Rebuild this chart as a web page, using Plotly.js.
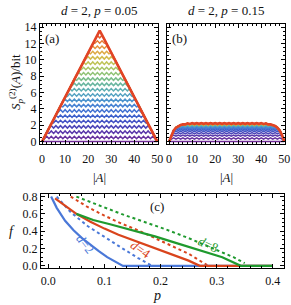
<!DOCTYPE html>
<html><head><meta charset="utf-8">
<script src="https://cdn.plot.ly/plotly-3.0.1.min.js"></script>
<style>html,body{margin:0;padding:0;background:#fff}#g{width:291px;height:305px}</style>
</head><body><div id="g"></div>
<script>
// |A| positions
const A = [0,1,2,3,4,5,6,7,8,9,10,11,12,13,14,15,16,17,18,19,20,21,22,23,24,25,26,27,28,29,30,31,32,33,34,35,36,37,38,39,40,41,42,43,44,45,46,47,48,49,50];

// Panel (a): d=2, p=0.05, curves from bottom (purple) to top (red)
const a00 = [0,0,0,0,0,0,0,0,0,0,0,0,0,0,0,0,0,0,0,0,0,0,0,0,0,0,0,0,0,0,0,0,0,0,0,0,0,0,0,0,0,0,0,0,0,0,0,0,0,0,0];
const a01 = [0,
 .35,.65,.35,.65,.35,.65,.35,.65,.35,.65,.35,.65,
 .35,.65,.35,.65,.35,.65,.35,.65,.35,.65,.35,.65,
 .35,.65,.35,.65,.35,.65,.35,.65,.35,.65,.35,.65,
 .35,.65,.35,.65,.35,.65,.35,.65,.35,.65,.35,.65,
 .35,0];
const a02 = [0,.55,1.09,
 1,1.3,1,1.3,1,1.3,1,1.3,1,1.3,1,1.3,
 1,1.3,1,1.3,1,1.3,1,1.3,1,1.3,1,1.3,
 1,1.3,1,1.3,1,1.3,1,1.3,1,1.3,1,1.3,
 1,1.3,1,1.3,1,1.3,1,1.3,
 1,1.09,.55,0];
const a03 = [0,.55,1.09,1.64,
 1.95,1.65,1.95,1.65,1.95,1.65,1.95,1.65,1.95,1.65,1.95,1.65,1.95,1.65,
 1.95,1.65,1.95,1.65,1.95,1.65,1.95,1.65,1.95,1.65,1.95,1.65,1.95,1.65,
 1.95,1.65,1.95,1.65,1.95,1.65,1.95,1.65,1.95,1.65,1.95,1.65,1.95,1.65,
 1.95,1.64,1.09,.55,0];
const a04 = [0,.55,1.09,1.64,2.18,
 2.3,2.6,2.3,2.6,2.3,2.6,2.3,2.6,2.3,2.6,
 2.3,2.6,2.3,2.6,2.3,2.6,2.3,2.6,2.3,2.6,
 2.3,2.6,2.3,2.6,2.3,2.6,2.3,2.6,2.3,2.6,
 2.3,2.6,2.3,2.6,2.3,2.6,2.3,2.6,2.3,2.6,
 2.3,2.18,1.64,1.09,.55,0];
const a05 = [0,.55,1.09,1.64,2.18,2.73,
 3.25,2.95,3.25,2.95,3.25,2.95,3.25,2.95,3.25,2.95,
 3.25,2.95,3.25,2.95,3.25,2.95,3.25,2.95,3.25,2.95,
 3.25,2.95,3.25,2.95,3.25,2.95,3.25,2.95,3.25,2.95,
 3.25,2.95,3.25,2.95,3.25,2.95,3.25,2.95,
 3.25,2.73,2.18,1.64,1.09,.55,0];
const a06 = [0,.55,1.09,1.64,2.18,2.73,3.27,
 3.6,3.9,3.6,3.9,3.6,3.9,3.6,3.9,3.6,3.9,3.6,3.9,
 3.6,3.9,3.6,3.9,3.6,3.9,3.6,3.9,3.6,3.9,3.6,3.9,
 3.6,3.9,3.6,3.9,3.6,3.9,3.6,3.9,3.6,3.9,3.6,3.9,
 3.6,3.27,2.73,2.18,1.64,1.09,.55,0];
const a07 = [0,.55,1.09,1.64,2.18,2.73,3.27,3.82,4.36,
 4.25,4.55,4.25,4.55,4.25,4.55,4.25,4.55,
 4.25,4.55,4.25,4.55,4.25,4.55,4.25,4.55,
 4.25,4.55,4.25,4.55,4.25,4.55,4.25,4.55,
 4.25,4.55,4.25,4.55,4.25,4.55,4.25,4.55,
 4.25,4.36,3.82,3.27,2.73,2.18,1.64,1.09,.55,0];
const a08 = [0,.55,1.09,1.64,2.18,2.73,3.27,3.82,4.36,
 4.9,5.2,4.9,5.2,4.9,5.2,4.9,5.2,
 4.9,5.2,4.9,5.2,4.9,5.2,4.9,5.2,
 4.9,5.2,4.9,5.2,4.9,5.2,4.9,5.2,
 4.9,5.2,4.9,5.2,4.9,5.2,4.9,5.2,
 4.9,4.36,3.82,3.27,2.73,2.18,1.64,1.09,.55,0];
const a09 = [0,.55,1.09,1.64,2.18,2.73,3.27,3.82,4.36,4.91,5.45,
 5.55,5.85,5.55,5.85,5.55,5.85,5.55,5.85,5.55,5.85,5.55,5.85,5.55,5.85,
 5.55,5.85,5.55,5.85,5.55,5.85,5.55,5.85,5.55,5.85,5.55,5.85,5.55,5.85,
 5.55,5.45,4.91,4.36,3.82,3.27,2.73,2.18,1.64,1.09,.55,0];
const a10 = [0,.55,1.09,1.64,2.18,2.73,3.27,3.82,4.36,4.91,5.45,6,
 6.5,6.2,6.5,6.2,6.5,6.2,6.5,6.2,6.5,6.2,6.5,6.2,6.5,6.2,
 6.5,6.2,6.5,6.2,6.5,6.2,6.5,6.2,6.5,6.2,6.5,6.2,
 6.5,
 6,5.45,4.91,4.36,3.82,3.27,2.73,2.18,1.64,1.09,.55,0];
const a11 = [0,.55,1.09,1.64,2.18,2.73,3.27,3.82,4.36,4.91,5.45,6,6.54,
 6.85,7.15,6.85,7.15,6.85,7.15,6.85,7.15,6.85,7.15,6.85,7.15,
 6.85,7.15,6.85,7.15,6.85,7.15,6.85,7.15,6.85,7.15,6.85,7.15,6.85,
 6.54,6,5.45,4.91,4.36,3.82,3.27,2.73,2.18,1.64,1.09,.55,0];
const a12 = [0,.55,1.09,1.64,2.18,2.73,3.27,3.82,4.36,4.91,5.45,6,6.54,7.09,7.63,
 7.5,7.8,7.5,7.8,7.5,7.8,7.5,7.8,7.5,7.8,
 7.5,7.8,7.5,7.8,7.5,7.8,7.5,7.8,7.5,7.8,7.5,
 7.63,7.09,6.54,6,5.45,4.91,4.36,3.82,3.27,2.73,2.18,1.64,1.09,.55,0];
const a13 = [0,.55,1.09,1.64,2.18,2.73,3.27,3.82,4.36,4.91,5.45,6,6.54,7.09,7.63,
 8.15,8.45,8.15,8.45,8.15,8.45,8.15,8.45,8.15,8.45,
 8.15,8.45,8.15,8.45,8.15,8.45,8.15,8.45,8.15,8.45,8.15,
 7.63,7.09,6.54,6,5.45,4.91,4.36,3.82,3.27,2.73,2.18,1.64,1.09,.55,0];
const a14 = [0,.55,1.09,1.64,2.18,2.73,3.27,3.82,4.36,4.91,5.45,6,6.54,7.09,7.63,8.18,8.72,
 8.8,9.1,8.8,9.1,8.8,9.1,8.8,9.1,
 8.8,9.1,8.8,9.1,8.8,9.1,8.8,9.1,8.8,
 8.72,8.18,7.63,7.09,6.54,6,5.45,4.91,4.36,3.82,3.27,2.73,2.18,1.64,1.09,.55,0];
const a15 = [0,.55,1.09,1.64,2.18,2.73,3.27,3.82,4.36,4.91,5.45,6,6.54,7.09,7.63,8.18,8.72,9.27,
 9.75,9.45,9.75,9.45,9.75,9.45,9.75,9.45,9.75,9.45,9.75,9.45,9.75,9.45,9.75,
 9.27,8.72,8.18,7.63,7.09,6.54,6,5.45,4.91,4.36,3.82,3.27,2.73,2.18,1.64,1.09,.55,0];
const a16 = [0,.55,1.09,1.64,2.18,2.73,3.27,3.82,4.36,4.91,5.45,6,6.54,7.09,7.63,8.18,8.72,9.27,9.81,
 10.1,10.4,10.1,10.4,10.1,10.4,10.1,10.4,10.1,10.4,10.1,10.4,10.1,
 9.81,9.27,8.72,8.18,7.63,7.09,6.54,6,5.45,4.91,4.36,3.82,3.27,2.73,2.18,1.64,1.09,.55,0];
const a17 = [0,.55,1.09,1.64,2.18,2.73,3.27,3.82,4.36,4.91,5.45,6,6.54,7.09,7.63,8.18,8.72,9.27,9.81,10.36,10.9,
 10.75,11.05,10.75,11.05,10.75,11.05,10.75,11.05,10.75,
 10.9,10.36,9.81,9.27,8.72,8.18,7.63,7.09,6.54,6,5.45,4.91,4.36,3.82,3.27,2.73,2.18,1.64,1.09,.55,0];
const a18 = [0,.55,1.09,1.64,2.18,2.73,3.27,3.82,4.36,4.91,5.45,6,6.54,7.09,7.63,8.18,8.72,9.27,9.81,10.36,10.9,
 11.4,11.7,11.4,11.7,11.4,11.7,11.4,11.7,11.4,
 10.9,10.36,9.81,9.27,8.72,8.18,7.63,7.09,6.54,6,5.45,4.91,4.36,3.82,3.27,2.73,2.18,1.64,1.09,.55,0];
const a19 = [0,.55,1.09,1.64,2.18,2.73,3.27,3.82,4.36,4.91,5.45,6,6.54,7.09,7.63,8.18,8.72,9.27,9.81,10.36,10.9,11.45,11.99,
 12.05,12.35,12.05,12.35,12.05,
 11.99,11.45,10.9,10.36,9.81,9.27,8.72,8.18,7.63,7.09,6.54,6,5.45,4.91,4.36,3.82,3.27,2.73,2.18,1.64,1.09,.55,0];
const a20 = [0,.55,1.09,1.64,2.18,2.73,3.27,3.82,4.36,4.91,5.45,6,6.54,7.09,7.63,8.18,8.72,9.27,9.81,10.36,10.9,11.45,11.99,12.54,
 13,12.7,13,
 12.54,11.99,11.45,10.9,10.36,9.81,9.27,8.72,8.18,7.63,7.09,6.54,6,5.45,4.91,4.36,3.82,3.27,2.73,2.18,1.64,1.09,.55,0];
const a21 = [0,.55,1.09,1.64,2.18,2.73,3.27,3.82,4.36,4.91,5.45,6,6.54,7.09,7.63,8.18,8.72,9.27,9.81,10.36,10.9,11.45,11.99,12.54,13.08,
 13.6,
 13.08,12.54,11.99,11.45,10.9,10.36,9.81,9.27,8.72,8.18,7.63,7.09,6.54,6,5.45,4.91,4.36,3.82,3.27,2.73,2.18,1.64,1.09,.55,0];

// Panel (b): d=2, p=0.15
const b00 = [0,0,0,0,0,0,0,0,0,0,0,0,0,0,0,0,0,0,0,0,0,0,0,0,0,0,0,0,0,0,0,0,0,0,0,0,0,0,0,0,0,0,0,0,0,0,0,0,0,0,0];
const b01 = [0,
 .3,.45,.3,.45,.3,.45,.3,.45,.3,.45,.3,.45,
 .3,.45,.3,.45,.3,.45,.3,.45,.3,.45,.3,.45,
 .3,.45,.3,.45,.3,.45,.3,.45,.3,.45,.3,.45,
 .3,.45,.3,.45,.3,.45,.3,.45,.3,.45,.3,.45,
 .3,0];
const b02 = [0,
 .65,.8,.65,.8,.65,.8,.65,.8,.65,.8,.65,.8,
 .65,.8,.65,.8,.65,.8,.65,.8,.65,.8,.65,.8,
 .65,.8,.65,.8,.65,.8,.65,.8,.65,.8,.65,.8,
 .65,.8,.65,.8,.65,.8,.65,.8,.65,.8,.65,.8,
 .65,0];
const b03 = [0,.8,
 1.1,.95,1.1,.95,1.1,.95,1.1,.95,1.1,.95,1.1,.95,
 1.1,.95,1.1,.95,1.1,.95,1.1,.95,1.1,.95,1.1,.95,
 1.1,.95,1.1,.95,1.1,.95,1.1,.95,1.1,.95,1.1,.95,
 1.1,.95,1.1,.95,1.1,.95,1.1,.95,1.1,.95,
 1.1,.8,0];
const b04 = [0,.8,
 1.35,1.2,1.35,1.2,1.35,1.2,1.35,1.2,1.35,1.2,1.35,1.2,
 1.35,1.2,1.35,1.2,1.35,1.2,1.35,1.2,1.35,1.2,1.35,1.2,
 1.35,1.2,1.35,1.2,1.35,1.2,1.35,1.2,1.35,1.2,1.35,1.2,
 1.35,1.2,1.35,1.2,1.35,1.2,1.35,1.2,1.35,1.2,
 1.35,.8,0];
const b05 = [0,.8,1.35,
 1.4,1.55,1.4,1.55,1.4,1.55,1.4,1.55,1.4,1.55,1.4,1.55,
 1.4,1.55,1.4,1.55,1.4,1.55,1.4,1.55,1.4,1.55,1.4,1.55,
 1.4,1.55,1.4,1.55,1.4,1.55,1.4,1.55,1.4,1.55,1.4,1.55,
 1.4,1.55,1.4,1.55,1.4,1.55,1.4,1.55,
 1.4,1.35,.8,0];
const b06 = [0,.8,1.35,
 1.55,1.7,1.55,1.7,1.55,1.7,1.55,1.7,1.55,1.7,1.55,1.7,
 1.55,1.7,1.55,1.7,1.55,1.7,1.55,1.7,1.55,1.7,1.55,1.7,
 1.55,1.7,1.55,1.7,1.55,1.7,1.55,1.7,1.55,1.7,1.55,1.7,
 1.55,1.7,1.55,1.7,1.55,1.7,1.55,1.7,
 1.55,1.35,.8,0];
const b07 = [0,.8,1.35,
 1.67,1.82,1.67,1.82,1.67,1.82,1.67,1.82,1.67,1.82,1.67,1.82,
 1.67,1.82,1.67,1.82,1.67,1.82,1.67,1.82,1.67,1.82,1.67,1.82,
 1.67,1.82,1.67,1.82,1.67,1.82,1.67,1.82,1.67,1.82,1.67,1.82,
 1.67,1.82,1.67,1.82,1.67,1.82,1.67,1.82,
 1.67,1.35,.8,0];
const b08 = [0,.8,1.35,1.7,1.9,
 1.77,1.92,1.77,1.92,1.77,1.92,1.77,1.92,1.77,1.92,
 1.77,1.92,1.77,1.92,1.77,1.92,1.77,1.92,1.77,1.92,
 1.77,1.92,1.77,1.92,1.77,1.92,1.77,1.92,1.77,1.92,
 1.77,1.92,1.77,1.92,1.77,1.92,1.77,1.92,1.77,1.92,
 1.77,1.9,1.7,1.35,.8,0];
const b09 = [0,.8,1.35,1.7,1.9,
 1.85,2,1.85,2,1.85,2,1.85,2,1.85,2,
 1.85,2,1.85,2,1.85,2,1.85,2,1.85,2,
 1.85,2,1.85,2,1.85,2,1.85,2,1.85,2,
 1.85,2,1.85,2,1.85,2,1.85,2,1.85,2,
 1.85,1.9,1.7,1.35,.8,0];
const b10 = [0,.8,1.35,1.7,1.9,
 1.91,2.06,1.91,2.06,1.91,2.06,1.91,2.06,1.91,2.06,
 1.91,2.06,1.91,2.06,1.91,2.06,1.91,2.06,1.91,2.06,
 1.91,2.06,1.91,2.06,1.91,2.06,1.91,2.06,1.91,2.06,
 1.91,2.06,1.91,2.06,1.91,2.06,1.91,2.06,1.91,2.06,
 1.91,1.9,1.7,1.35,.8,0];
const b11 = [0,.8,1.35,1.7,1.9,
 1.95,2.1,1.95,2.1,1.95,2.1,1.95,2.1,1.95,2.1,
 1.95,2.1,1.95,2.1,1.95,2.1,1.95,2.1,1.95,2.1,
 1.95,2.1,1.95,2.1,1.95,2.1,1.95,2.1,1.95,2.1,
 1.95,2.1,1.95,2.1,1.95,2.1,1.95,2.1,1.95,2.1,
 1.95,1.9,1.7,1.35,.8,0];
const b12 = [0,.8,1.35,1.7,1.9,1.98,2.1,
 1.98,2.13,1.98,2.13,1.98,2.13,1.98,2.13,1.98,2.13,1.98,2.13,
 1.98,2.13,1.98,2.13,1.98,2.13,1.98,2.13,1.98,2.13,1.98,2.13,
 1.98,2.13,1.98,2.13,1.98,2.13,1.98,2.13,1.98,2.13,1.98,2.13,
 1.98,2.1,1.98,1.9,1.7,1.35,.8,0];
const b13 = [0,.8,1.35,1.7,1.9,2.01,2.1,
 2.01,2.16,2.01,2.16,2.01,2.16,2.01,2.16,2.01,2.16,2.01,2.16,
 2.01,2.16,2.01,2.16,2.01,2.16,2.01,2.16,2.01,2.16,2.01,2.16,
 2.01,2.16,2.01,2.16,2.01,2.16,2.01,2.16,2.01,2.16,2.01,2.16,
 2.01,2.1,2.01,1.9,1.7,1.35,.8,0];
const b14 = [0,.8,1.35,1.7,1.9,2.02,2.1,
 2.03,2.18,2.03,2.18,2.03,2.18,2.03,2.18,2.03,2.18,2.03,2.18,
 2.03,2.18,2.03,2.18,2.03,2.18,2.03,2.18,2.03,2.18,2.03,2.18,
 2.03,2.18,2.03,2.18,2.03,2.18,2.03,2.18,2.03,2.18,2.03,2.18,
 2.03,2.1,2.02,1.9,1.7,1.35,.8,0];
const b15 = [0,.8,1.35,1.7,1.9,2.02,2.1,
 2.05,2.2,2.05,2.2,2.05,2.2,2.05,2.2,2.05,2.2,2.05,2.2,
 2.05,2.2,2.05,2.2,2.05,2.2,2.05,2.2,2.05,2.2,2.05,2.2,
 2.05,2.2,2.05,2.2,2.05,2.2,2.05,2.2,2.05,2.2,2.05,2.2,
 2.05,2.1,2.02,1.9,1.7,1.35,.8,0];
const b16 = [0,.8,1.35,1.7,1.9,2.02,2.1,
 2.06,2.21,2.06,2.21,2.06,2.21,2.06,2.21,2.06,2.21,2.06,2.21,
 2.06,2.21,2.06,2.21,2.06,2.21,2.06,2.21,2.06,2.21,2.06,2.21,
 2.06,2.21,2.06,2.21,2.06,2.21,2.06,2.21,2.06,2.21,2.06,2.21,
 2.06,2.1,2.02,1.9,1.7,1.35,.8,0];
const b17 = [0,.8,1.35,1.7,1.9,2.02,2.1,
 2.07,2.22,2.07,2.22,2.07,2.22,2.07,2.22,2.07,2.22,2.07,2.22,
 2.07,2.22,2.07,2.22,2.07,2.22,2.07,2.22,2.07,2.22,2.07,2.22,
 2.07,2.22,2.07,2.22,2.07,2.22,2.07,2.22,2.07,2.22,2.07,2.22,
 2.07,2.1,2.02,1.9,1.7,1.35,.8,0];
const b18 = [0,.8,1.35,1.7,1.9,2.02,2.1,2.08,2.22,
 2.08,2.23,2.08,2.23,2.08,2.23,2.08,2.23,
 2.08,2.23,2.08,2.23,2.08,2.23,2.08,2.23,
 2.08,2.23,2.08,2.23,2.08,2.23,2.08,2.23,
 2.08,2.23,2.08,2.23,2.08,2.23,2.08,2.23,
 2.08,2.22,2.08,2.1,2.02,1.9,1.7,1.35,.8,0];
const b19 = [0,.8,1.35,1.7,1.9,2.02,2.1,2.09,2.22,
 2.09,2.24,2.09,2.24,2.09,2.24,2.09,2.24,
 2.09,2.24,2.09,2.24,2.09,2.24,2.09,2.24,
 2.09,2.24,2.09,2.24,2.09,2.24,2.09,2.24,
 2.09,2.24,2.09,2.24,2.09,2.24,2.09,2.24,
 2.09,2.22,2.09,2.1,2.02,1.9,1.7,1.35,.8,0];
const b20 = [0,.8,1.35,1.7,1.9,2.02,2.1,2.1,2.22,
 2.1,2.25,2.1,2.25,2.1,2.25,2.1,2.25,
 2.1,2.25,2.1,2.25,2.1,2.25,2.1,2.25,
 2.1,2.25,2.1,2.25,2.1,2.25,2.1,2.25,
 2.1,2.25,2.1,2.25,2.1,2.25,2.1,2.25,
 2.1,2.22,2.1,2.1,2.02,1.9,1.7,1.35,.8,0];
const b21 = [0,.8,1.35,1.7,1.9,2.02,2.1,2.1,2.22,2.16,2.26,
 2.17,2.27,2.17,2.27,2.17,2.27,2.17,2.27,2.17,2.27,2.17,2.27,2.17,2.27,
 2.17,2.27,2.17,2.27,2.17,2.27,2.17,2.27,2.17,2.27,2.17,2.27,2.17,2.27,
 2.17,2.26,2.16,2.22,2.1,2.1,2.02,1.9,1.7,1.35,.8,0];

// Panel (c): f vs p
const p_d2_solid = [0.005,0.015,0.03,0.045,0.06,0.075,0.09,0.105,0.12,0.133,0.4];
const f_d2_solid = [0.8,0.67,0.52,0.41,0.32,0.24,0.17,0.1,0.045,0.0,0.0];
const p_d4_solid = [0.012,0.03,0.05,0.075,0.1,0.125,0.15,0.175,0.2,0.225,0.25,0.27,0.4];
const f_d4_solid = [0.78,0.69,0.6,0.51,0.43,0.36,0.3,0.24,0.18,0.12,0.06,0.0,0.0];
const p_d8_solid = [0.05,0.08,0.11,0.15,0.19,0.23,0.27,0.31,0.343,0.4];
const f_d8_solid = [0.6,0.53,0.48,0.41,0.34,0.26,0.18,0.1,0.0,0.0];
const p_d2_dot = [0.015,0.04,0.07,0.1,0.13,0.16,0.185];
const f_d2_dot = [0.8,0.62,0.46,0.33,0.21,0.09,0.0];
const p_d4_dot = [0.04,0.07,0.1,0.13,0.16,0.19,0.22,0.25,0.285];
const f_d4_dot = [0.8,0.68,0.58,0.49,0.41,0.32,0.23,0.14,0.0];
const p_d8_dot = [0.05,0.09,0.13,0.17,0.21,0.25,0.29,0.33,0.35];
const f_d8_dot = [0.8,0.7,0.6,0.51,0.42,0.32,0.21,0.1,0.03];

const curvesA = [a00,a01,a02,a03,a04,a05,a06,a07,a08,a09,a10,a11,a12,a13,a14,a15,a16,a17,a18,a19,a20,a21];
const curvesB = [b00,b01,b02,b03,b04,b05,b06,b07,b08,b09,b10,b11,b12,b13,b14,b15,b16,b17,b18,b19,b20,b21];
const rainbow = ['#6f2a96','#66309f','#5a38aa','#4c44b8','#4352c4','#3f62cc','#4272d2','#4783d3','#4d94cd','#55a3c2','#5eaeb2','#69b6a0','#7abd8a','#8fc274','#a6c463','#bfc356','#d2bb4d','#dea945','#e4933c','#e67b34','#e4612d','#e14426'];
const cBlue = '#4a78d8', cRed = '#d9441c', cGreen = '#1f9a2e';

const traces = [];
curvesA.forEach((y,k)=>traces.push({x:A,y:y,xaxis:'x',yaxis:'y',mode:'lines',hoverinfo:'skip',
  line:{color:rainbow[k],width:k===21?2.6:1.5}}));
curvesB.forEach((y,k)=>traces.push({x:A,y:y,xaxis:'x2',yaxis:'y2',mode:'lines',hoverinfo:'skip',
  line:{color:rainbow[k],width:k===21?2.6:1.5}}));
const pc = (x,y,c,dash,w)=>({x:x,y:y,xaxis:'x3',yaxis:'y3',mode:'lines',hoverinfo:'skip',line:{color:c,dash:dash,width:w}});
traces.push(pc(p_d2_dot,f_d2_dot,cBlue,'dot',2));
traces.push(pc(p_d4_dot,f_d4_dot,cRed,'dot',2));
traces.push(pc(p_d8_dot,f_d8_dot,cGreen,'dot',2));
traces.push(pc(p_d2_solid,f_d2_solid,cBlue,'solid',2.2));
traces.push(pc(p_d4_solid,f_d4_solid,cRed,'solid',2.2));
traces.push(pc(p_d8_solid,f_d8_solid,cGreen,'solid',2.2));

const FONT = 'Liberation Serif, Times New Roman, serif';
const tf = {family:FONT,size:12,color:'#111'};
const ax = (o)=>Object.assign({showgrid:false,zeroline:false,showline:true,linecolor:'#000',linewidth:1,
  mirror:'allticks',ticks:'inside',ticklen:4,tickcolor:'#000',tickwidth:1,tickfont:tf,fixedrange:true},o);
const W=291,H=305;
const px=v=>v/W, py=v=>1-v/H;
const ann = (x,y,text,o)=>Object.assign({xref:'paper',yref:'paper',x:px(x),y:py(y),text:text,showarrow:false,
  xanchor:'center',yanchor:'middle',font:{family:FONT,size:13,color:'#111'}},o||{});

const layout = {
  width:W,height:H,margin:{l:0,r:0,t:0,b:0},paper_bgcolor:'#fff',plot_bgcolor:'#fff',showlegend:false,
  font:{family:FONT,size:12,color:'#111'},
  xaxis: ax({domain:[px(40),px(158)],range:[-0.9,50.3],anchor:'y',tickmode:'linear',tick0:0,dtick:10,ticklabelstandoff:4,
    minor:{dtick:2,ticks:'inside',ticklen:2,tickcolor:'#000'}}),
  yaxis: ax({domain:[py(144),py(24)],range:[-0.3,14.4],anchor:'x',tickmode:'linear',tick0:0,dtick:2,
    minor:{dtick:0.5,ticks:'inside',ticklen:2,tickcolor:'#000'}}),
  xaxis2: ax({domain:[px(167),px(285)],range:[-0.9,50.3],anchor:'y2',tickmode:'linear',tick0:0,dtick:10,ticklabelstandoff:4,
    minor:{dtick:2,ticks:'inside',ticklen:2,tickcolor:'#000'}}),
  yaxis2: ax({domain:[py(144),py(24)],range:[-0.3,14.4],anchor:'x2',tickmode:'linear',tick0:0,dtick:2,showticklabels:false,
    minor:{dtick:0.5,ticks:'inside',ticklen:2,tickcolor:'#000'}}),
  xaxis3: ax({domain:[px(41),px(284)],range:[-0.013,0.42],anchor:'y3',tickmode:'linear',tick0:0,dtick:0.1,tickformat:'.1f',ticklabelstandoff:2,
    minor:{dtick:0.02,ticks:'inside',ticklen:2,tickcolor:'#000'}}),
  yaxis3: ax({domain:[py(268),py(194)],range:[-0.025,0.83],anchor:'x3',tickmode:'linear',tick0:0,dtick:0.2,tickformat:'.1f',
    minor:{dtick:0.05,ticks:'inside',ticklen:2,tickcolor:'#000'}}),
  annotations:[
    ann(99,10,'<i>d</i> = 2, <i>p</i> = 0.05'),
    ann(226,10,'<i>d</i> = 2, <i>p</i> = 0.15'),
    ann(99,177,'|<i>A</i>|'),
    ann(226,177,'|<i>A</i>|'),
    ann(16,82,'<i>S</i><sub><i>p</i></sub><sup>(2)</sup>(<i>A</i>)/bit',{textangle:-90}),
    ann(52,38,'(a)'),
    ann(179,38,'(b)'),
    ann(157,206,'(c)'),
    ann(12,231,'<i>f</i>',{font:{family:FONT,size:14,color:'#111'}}),
    ann(157,295,'<i>p</i>',{font:{family:FONT,size:14,color:'#111'}}),
    {xref:'x3',yref:'y3',x:0.065,y:0.255,text:'<i>d</i>=2',textangle:52,showarrow:false,xanchor:'center',yanchor:'middle',font:{family:FONT,size:13,color:cBlue}},
    {xref:'x3',yref:'y3',x:0.165,y:0.185,text:'<i>d</i>=4',textangle:35,showarrow:false,xanchor:'center',yanchor:'middle',font:{family:FONT,size:13,color:cRed}},
    {xref:'x3',yref:'y3',x:0.285,y:0.245,text:'<i>d</i>=8',textangle:25,showarrow:false,xanchor:'center',yanchor:'middle',font:{family:FONT,size:13,color:cGreen}}
  ]
};
Plotly.newPlot('g',traces,layout,{staticPlot:true,displayModeBar:false});
</script></body></html>
